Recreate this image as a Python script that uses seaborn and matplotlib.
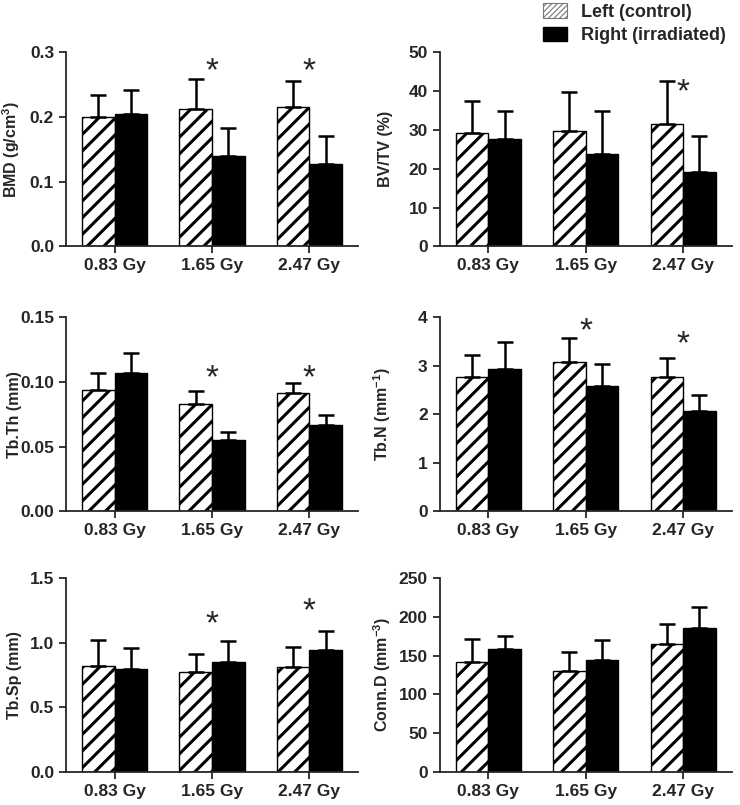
import numpy as np
import pandas as pd
import matplotlib
matplotlib.use('Agg')
import matplotlib.pyplot as plt
import seaborn as sns
from matplotlib.patches import Patch

# --- data ---
doses = ['0.83 Gy', '1.65 Gy', '2.47 Gy']
sides = ['Left (control)', 'Right (irradiated)']

bmd_left = [0.200, 0.213, 0.215]
bmd_left_err = [0.034, 0.045, 0.041]
bmd_right = [0.205, 0.139, 0.127]
bmd_right_err = [0.037, 0.044, 0.043]

bvtv_left = [29.2, 29.7, 31.4]
bvtv_left_err = [8.2, 10.2, 11.1]
bvtv_right = [27.6, 23.8, 19.2]
bvtv_right_err = [7.2, 11.1, 9.2]

tbth_left = [0.094, 0.083, 0.091]
tbth_left_err = [0.013, 0.010, 0.008]
tbth_right = [0.107, 0.055, 0.067]
tbth_right_err = [0.015, 0.006, 0.007]

tbn_left = [2.76, 3.08, 2.76]
tbn_left_err = [0.47, 0.49, 0.40]
tbn_right = [2.94, 2.59, 2.07]
tbn_right_err = [0.55, 0.44, 0.32]

tbsp_left = [0.82, 0.77, 0.81]
tbsp_left_err = [0.20, 0.14, 0.16]
tbsp_right = [0.80, 0.85, 0.94]
tbsp_right_err = [0.16, 0.16, 0.15]

connd_left = [142, 130, 165]
connd_left_err = [29, 25, 26]
connd_right = [158, 144, 186]
connd_right_err = [17, 26, 27]

# significance stars: (group index, y position)
bmd_stars = [(1, 0.282), (2, 0.282)]
bvtv_stars = [(2, 41.6)]
tbth_stars = [(1, 0.108), (2, 0.108)]
tbn_stars = [(1, 3.86), (2, 3.59)]
tbsp_stars = [(1, 1.20), (2, 1.30)]
connd_stars = []

sns.set_style('ticks')
plt.rcParams['font.family'] = ['Liberation Sans', 'DejaVu Sans']
plt.rcParams['font.weight'] = 'bold'
plt.rcParams['mathtext.fontset'] = 'custom'
plt.rcParams['mathtext.rm'] = 'Liberation Sans:bold'
plt.rcParams['mathtext.bf'] = 'Liberation Sans:bold'
plt.rcParams['mathtext.default'] = 'bf'
plt.rcParams['hatch.linewidth'] = 2.2

fig = plt.figure(figsize=(7.4, 8.05), dpi=100)
col_x = [0.089, 0.594]
row_y = [0.694, 0.365, 0.041]
w, h = 0.395, 0.241
label_x = [22 / 740, 393 / 740]   # y label centres (figure fraction)


def draw_panel(ax, col, left, left_err, right, right_err, ylabel, ymax, ticks, fmt, stars):
    df = pd.DataFrame({
        'dose': doses * 2,
        'side': [sides[0]] * 3 + [sides[1]] * 3,
        'value': list(left) + list(right),
    })
    sns.barplot(data=df, x='dose', y='value', hue='side', order=doses, hue_order=sides,
                palette=['white', 'black'], width=0.67, errorbar=None,
                edgecolor='black', linewidth=1.0, saturation=1, legend=False, ax=ax)
    for bar in ax.containers[0]:
        bar.set_hatch('//')
    for cont, errs in zip(ax.containers, [left_err, right_err]):
        xs = [b.get_x() + b.get_width() / 2 for b in cont]
        ys = [b.get_height() for b in cont]
        ax.errorbar(xs, ys, yerr=[np.zeros(len(errs)), errs], fmt='none',
                    ecolor='black', elinewidth=1.8, capsize=5.8, capthick=1.8, zorder=3)
    for gi, sy in stars:
        ax.annotate('*', xy=(gi, sy), xytext=(0, -5.5), textcoords='offset points',
                    ha='center', va='center', fontsize=24, fontweight='normal')
    ax.set_ylim(0, ymax)
    ax.set_xlim(-0.5, 2.5)
    ax.set_yticks(ticks)
    ax.set_yticklabels([fmt.format(t) for t in ticks])
    ax.set_xlabel('')
    ax.set_ylabel(ylabel, fontsize=11.5, fontweight='bold')
    ax.yaxis.set_label_coords((label_x[col] - col_x[col]) / w, 0.5)
    ax.tick_params(axis='both', labelsize=12.5, width=1.3, length=5, direction='out')
    for s in ['left', 'bottom']:
        ax.spines[s].set_linewidth(1.3)
    sns.despine(ax=ax)


panels = [
    (bmd_left, bmd_left_err, bmd_right, bmd_right_err, r'BMD (g/cm$^{3}$)', 0.3, [0, 0.1, 0.2, 0.3], '{:.1f}', bmd_stars),
    (bvtv_left, bvtv_left_err, bvtv_right, bvtv_right_err, 'BV/TV (%)', 50, [0, 10, 20, 30, 40, 50], '{:.0f}', bvtv_stars),
    (tbth_left, tbth_left_err, tbth_right, tbth_right_err, 'Tb.Th (mm)', 0.15, [0, 0.05, 0.10, 0.15], '{:.2f}', tbth_stars),
    (tbn_left, tbn_left_err, tbn_right, tbn_right_err, r'Tb.N (mm$^{-1}$)', 4, [0, 1, 2, 3, 4], '{:.0f}', tbn_stars),
    (tbsp_left, tbsp_left_err, tbsp_right, tbsp_right_err, 'Tb.Sp (mm)', 1.5, [0, 0.5, 1.0, 1.5], '{:.1f}', tbsp_stars),
    (connd_left, connd_left_err, connd_right, connd_right_err, r'Conn.D (mm$^{-3}$)', 250, [0, 50, 100, 150, 200, 250], '{:.0f}', connd_stars),
]

for i, p in enumerate(panels):
    ax = fig.add_axes([col_x[i % 2], row_y[i // 2], w, h])
    draw_panel(ax, i % 2, *p)

handles = [
    Patch(facecolor='white', edgecolor='#777777', hatch='//////', linewidth=0.8, label=sides[0]),
    Patch(facecolor='black', edgecolor='black', label=sides[1]),
]
with plt.rc_context({'hatch.linewidth': 0.8}):
    fig.legend(handles=handles, loc='upper left', bbox_to_anchor=(0.712, 1.016), frameon=False,
               handlelength=1.3, handleheight=0.9, handletextpad=0.8, labelspacing=0.3,
               prop={'weight': 'bold', 'size': 13})

fig.savefig('out.png', dpi=100)
